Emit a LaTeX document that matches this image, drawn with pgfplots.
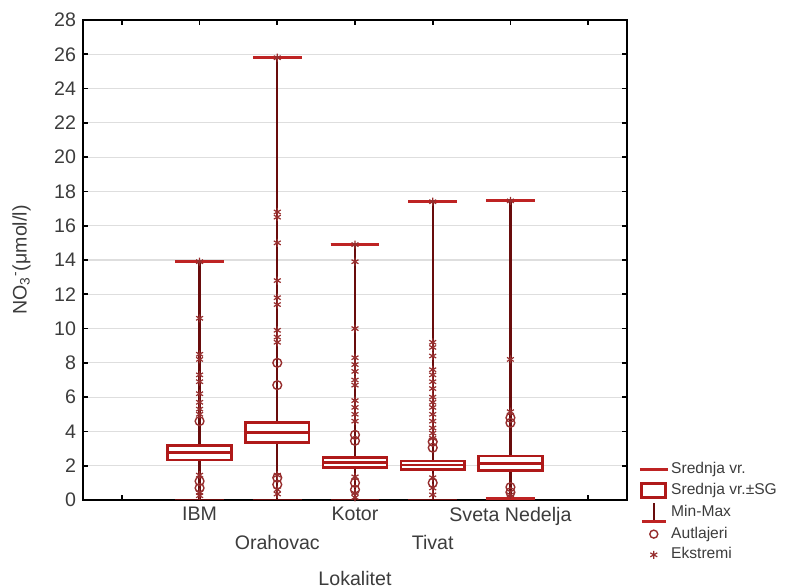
\documentclass[border=0pt]{standalone}
\usepackage{pgfplots}
\pgfplotsset{compat=1.18}
\usepgfplotslibrary{statistics}
\usepackage{fontspec}
\setmainfont{Liberation Sans}
\definecolor{boxred}{RGB}{175,25,25}
\definecolor{capred}{RGB}{190,35,35}
\definecolor{whisk}{RGB}{105,12,12}
\definecolor{markred}{RGB}{150,45,45}
\definecolor{textgray}{RGB}{60,60,60}
\definecolor{gridgray}{RGB}{222,222,222}
\begin{document}
\begin{tikzpicture}
\useasboundingbox (-41.5pt,-44pt) rectangle (352pt,250pt);
\begin{axis}[
  scale only axis, width=272pt, height=240pt,
  xmin=-1.5, xmax=5.5, ymin=0, ymax=28,
  xtick={-1,0,1,2,3,4,5},
  xticklabels={{},IBM,{\strut\\Orahovac},Kotor,{\strut\\Tivat},Sveta Nedelja,{}},
  ytick={0,2,...,28},
  tick align=inside, major tick length=2.5pt,
  tick style={black, line width=0.9pt},
  axis line style={black, line width=1.1pt},
  ymajorgrids, grid style={gridgray, line width=0.6pt},
  /pgf/number format/assume math mode=true,
  ticklabel style={text=textgray, font=\fontsize{9.8}{12.5}\selectfont},
  xticklabel style={align=center},
  xlabel={Lokalitet}, ylabel={NO\textsubscript{3}\textsuperscript{-}(μmol/l)},
  label style={text=textgray, font=\fontsize{9.8}{12}\selectfont},
  xlabel style={at={(axis description cs:0.5,-0.1625)}, anchor=center},
  ylabel style={at={(axis description cs:-0.113,0.5)}, anchor=center},
  boxplot/draw direction=y,
  boxplot/every box/.style={draw=boxred, line width=1.3pt, fill=white},
  boxplot/every median/.style={draw=boxred, line width=1.3pt},
  boxplot/every whisker/.style={draw=whisk, line width=1.2pt},
  boxplot/box extend=0.82, boxplot/whisker extend=0.63,
  legend style={at={(1,0.083)}, anchor=north west, xshift=5.5pt, draw=none, fill=none,
    inner sep=0pt, font=\fontsize{7.8}{9}\selectfont, text=textgray,
    row sep=1.2pt, nodes={inner sep=1pt}},
  legend cell align=left,
]
% boxes: mean, mean-SG, mean+SG, min, max
\addplot[boxplot/draw direction=y, boxplot prepared={draw position=0, lower whisker=0, lower quartile=2.33, median=2.76, upper quartile=3.17, upper whisker=13.9}, forget plot] coordinates {};
\addplot[boxplot/draw direction=y, boxplot prepared={draw position=1, lower whisker=0, lower quartile=3.34, median=3.95, upper quartile=4.53, upper whisker=25.8}, forget plot] coordinates {};
\addplot[boxplot/draw direction=y, boxplot prepared={draw position=2, lower whisker=0, lower quartile=1.91, median=2.2, upper quartile=2.47, upper whisker=14.9}, forget plot] coordinates {};
\addplot[boxplot/draw direction=y, boxplot prepared={draw position=3, lower whisker=0, lower quartile=1.79, median=2.05, upper quartile=2.28, upper whisker=17.4}, forget plot] coordinates {};
\addplot[boxplot/draw direction=y, boxplot prepared={draw position=4, lower whisker=0.1, lower quartile=1.71, median=2.14, upper quartile=2.57, upper whisker=17.45}, forget plot] coordinates {};
% red caps at max (and the visible min of Sveta Nedelja)
\addplot[capred, line width=1.5pt, forget plot] coordinates {(-0.315,13.9) (0.315,13.9)};
\addplot[capred, line width=1.5pt, forget plot] coordinates {(0.685,25.8) (1.315,25.8)};
\addplot[capred, line width=1.5pt, forget plot] coordinates {(1.685,14.9) (2.315,14.9)};
\addplot[capred, line width=1.5pt, forget plot] coordinates {(2.685,17.4) (3.315,17.4)};
\addplot[capred, line width=1.5pt, forget plot] coordinates {(3.685,17.45) (4.315,17.45)};
\addplot[capred, line width=1.5pt, forget plot] coordinates {(3.685,0.1) (4.315,0.1)};
% outliers (circles)
\addplot[only marks, mark=o, mark size=2.2pt, mark options={draw=markred, fill=white, line width=0.7pt}, forget plot] table {
x y
0 4.6
0 1.1
0 0.7
1 8.0
1 6.7
1 1.3
1 0.9
2 3.8
2 3.45
2 1.0
2 0.6
3 3.4
3 3.05
3 1.0
4 4.8
4 4.5
4 0.75
4 0.45
};
% extremes (stars)
\addplot[only marks, mark=asterisk, mark size=2pt, mark options={draw=markred, line width=0.6pt}, forget plot] table {
x y
0 13.9
0 10.6
0 8.5
0 8.2
0 7.3
0 6.9
0 6.2
0 5.7
0 5.3
0 5.0
0 1.45
0 0.45
0 0.25
1 25.8
1 16.8
1 16.5
1 15.0
1 12.8
1 11.8
1 11.4
1 9.9
1 9.5
1 9.2
1 1.45
1 0.6
1 0.35
2 14.9
2 13.9
2 10.0
2 8.3
2 7.9
2 7.5
2 7.0
2 6.7
2 5.8
2 5.4
2 5.0
2 4.6
2 1.35
2 0.4
2 0.15
3 17.4
3 9.2
3 8.9
3 8.4
3 7.6
3 7.3
3 6.9
3 6.5
3 6.0
3 5.7
3 5.4
3 5.0
3 4.6
3 4.2
3 3.9
3 3.6
3 1.3
3 0.7
3 0.3
4 17.45
4 8.2
4 5.15
4 0.3
};
% legend
\addlegendimage{legend image code/.code={\draw[capred, line width=1.4pt] (0pt,0pt) -- (14pt,0pt);}}
\addlegendentry{Srednja vr.}
\addlegendimage{legend image code/.code={\draw[boxred, line width=1.3pt, fill=white] (1pt,-3.5pt) rectangle (13pt,3.5pt);}}
\addlegendentry{Srednja vr.±SG}
\addlegendimage{legend image code/.code={\draw[whisk, line width=1.2pt] (7pt,-4.5pt) -- (7pt,4.5pt); \draw[capred, line width=1.4pt] (1pt,-4.5pt) -- (13pt,-4.5pt);}}
\addlegendentry{Min-Max}
\addlegendimage{legend image code/.code={\draw[markred, line width=0.7pt, fill=white] (7pt,0pt) circle (2pt);}}
\addlegendentry{Autlajeri}
\addlegendimage{legend image code/.code={\pgfsetlinewidth{0.6pt}\color{markred}\pgftransformshift{\pgfpoint{7pt}{0pt}}\pgfuseplotmark{asterisk};}}
\addlegendentry{Ekstremi}
\end{axis}
\end{tikzpicture}
\end{document}
